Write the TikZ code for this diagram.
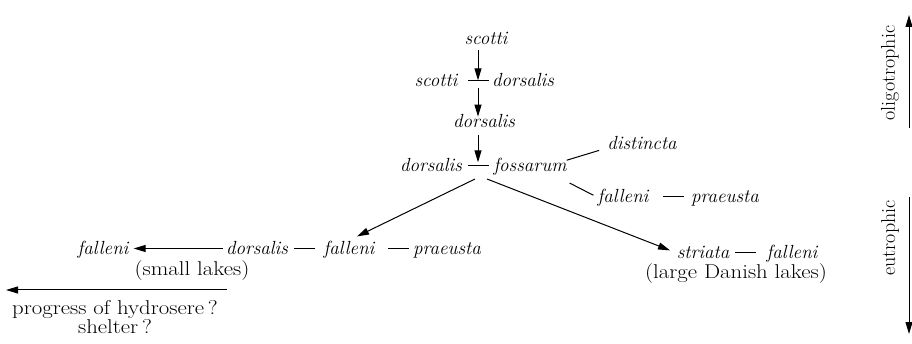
\documentclass[tikz,border=0pt]{standalone}
\usepackage{graphicx}
\usetikzlibrary{arrows.meta}
\newcommand{\wide}[1]{\scalebox{1.14}[1]{#1}}
\begin{document}
\begin{tikzpicture}[x=1pt,y=-1pt,
  it/.style={font=\itshape\fontsize{19}{21}\selectfont, inner sep=0pt, anchor=base},
  rm/.style={font=\fontsize{20}{17}\selectfont, inner sep=0pt, anchor=base, align=center},
  dashbar/.style={fill=black, inner sep=0pt, minimum width=21pt, minimum height=1pt},
  conn/.style={line width=1pt},
  arr/.style={line width=1pt, -{Triangle[length=12pt,width=7pt]}},
  lbl/.style={font=\fontsize{20}{22}\selectfont, inner sep=0pt, rotate=90}
]
\useasboundingbox (0,0) rectangle (912,344);

% central chain
\node[it] (sc1) at (486,45) {scotti};
\node[it] (sc2) at (436,87) {scotti};
\node[dashbar] (da1) at (478,81) {};
\node[it] (do2) at (523,87) {dorsalis};
\node[it] (do3) at (484,128) {dorsalis};
\node[it] (do4) at (431,172) {dorsalis};
\node[dashbar] (da2) at (478,166) {};
\node[it] (fo) at (530,172) {fossarum};
\node[it] (di) at (642,150) {distincta};
\node[it] (fa1) at (623,203) {falleni};
\node[dashbar] (da3) at (673,197) {};
\node[it] (pr1) at (725,203) {praeusta};

% bottom left
\node[it] (fa2) at (103,255) {falleni};
\node[it] (do5) at (257,255) {dorsalis};
\node[dashbar] (da4) at (304,249) {};
\node[it] (fa3) at (349,255) {falleni};
\node[dashbar] (da5) at (398,249) {};
\node[it] (pr2) at (447,255) {praeusta};
\node[rm] (sm) at (192,276) {\wide{(small lakes)}};

% bottom right
\node[it] (st) at (703,259) {striata};
\node[dashbar] (da6) at (745,253) {};
\node[it] (fa4) at (792,259) {falleni};
\node[rm] (lg) at (736,279) {\wide{(large Danish lakes)}};

% progress arrow
\coordinate (pa1) at (227,290);
\coordinate (pa2) at (6,290);
\node[rm] (pg) at (115,334) {\wide{progress of hydrosere\,?}\\\wide{shelter\,?}};

% right scale
\node[lbl] (oli) at (890,73) {oligotrophic};
\node[lbl] (eu) at (890,238) {eutrophic};
\coordinate (ot1) at (909,128);
\coordinate (ot2) at (909,15);
\coordinate (eu1) at (909,197);
\coordinate (eu2) at (909,334);

% connectors
\draw[arr, shorten <=5pt] (sc1.south -| da1.north) -- (da1.north);
\draw[arr, shorten <=6pt, shorten >=-2pt] (da1.south) -- (da1.south |- do3.north);
\draw[arr, shorten <=7pt, shorten >=3pt] (do3.south -| da2.north) -- (da2.north);
\draw[conn] ([yshift=7pt]fo.east) -- ([xshift=-8pt]di.south west);
\draw[conn] ([xshift=3pt,yshift=-7pt]fo.south east) -- ([xshift=-4pt,yshift=3pt]fa1.west);
\draw[arr] ([xshift=-3pt,yshift=-13pt]da2.center) -- ([xshift=8pt,yshift=5pt]fa3.north);
\draw[arr, shorten >=7pt] ([xshift=9pt,yshift=-13pt]da2.center) -- (st.west);
\draw[arr, shorten <=3pt, shorten >=5pt] (do5.west) -- (do5.west -| fa2.east);
\draw[arr] (pa1) -- (pa2);
\draw[arr] (ot1) -- (ot2);
\draw[arr] (eu1) -- (eu2);
\end{tikzpicture}
\end{document}
